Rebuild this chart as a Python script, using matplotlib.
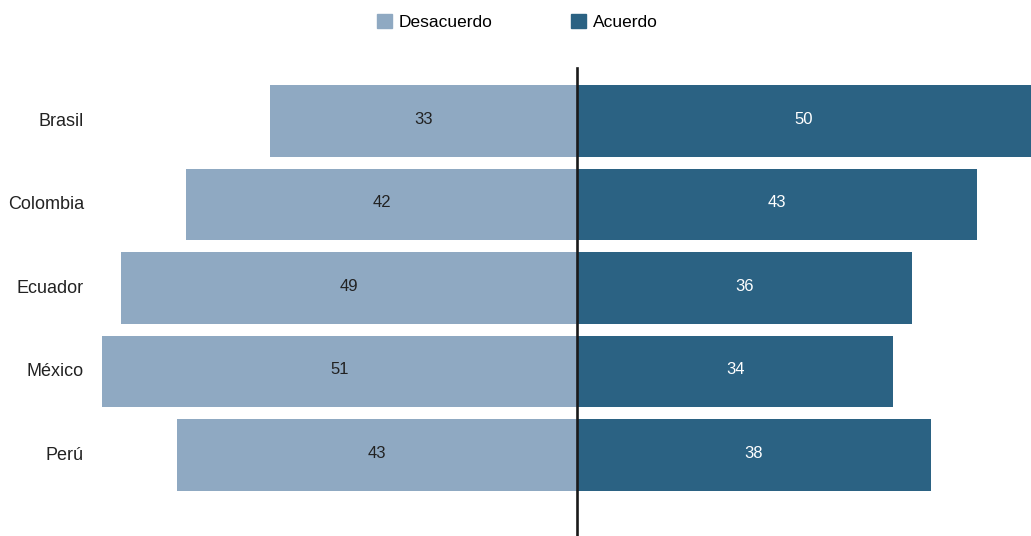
import matplotlib
matplotlib.use("Agg")
import matplotlib.pyplot as plt
from matplotlib.patches import Patch

countries = ["Brasil", "Colombia", "Ecuador", "México", "Perú"]
desacuerdo = [33, 42, 49, 51, 43]
acuerdo = [50, 43, 36, 34, 38]

C_DES = "#8fa9c2"
C_ACU = "#2b6283"
FONT = ["Liberation Sans Narrow", "Liberation Sans", "DejaVu Sans"]
plt.rcParams["font.family"] = FONT

fig = plt.figure(figsize=(10.31, 5.36), dpi=100)
ax = fig.add_axes([0, 0, 1, 1])

xlo, xhi = -62.0, 48.8
ys = list(range(len(countries)))
ax.barh(ys, [-v for v in desacuerdo], height=0.86, color=C_DES, zorder=2)
ax.barh(ys, acuerdo, height=0.86, color=C_ACU, zorder=2)

for y, d, a, name in zip(ys, desacuerdo, acuerdo, countries):
    ax.text(-d / 2, y - 0.02, f"{d}", ha="center", va="center", fontsize=12, color="#222222", zorder=3)
    ax.text(min(a, xhi) / 2, y - 0.02, f"{a}", ha="center", va="center", fontsize=12, color="white", zorder=3)
    ax.text(84 / 1031, y, name, transform=ax.get_yaxis_transform(), ha="right", va="center",
            fontsize=13, color="#222222")

ax.axvline(0, ymin=0, ymax=1 - 68 / 536, color="#1a1a1a", lw=1.9, zorder=4)

ax.set_xlim(xlo, xhi)
ax.set_ylim(4.97, -1.45)
ax.axis("off")

handles = [Patch(color=C_DES, label="Desacuerdo"), Patch(color=C_ACU, label="Acuerdo")]
fig.legend(handles=handles, loc="center", bbox_to_anchor=(0.502, 0.959), ncol=2, frameon=False,
           fontsize=12.5, handlelength=0.86, handleheight=0.86, handletextpad=0.4,
           columnspacing=4.5, borderpad=0)

fig.savefig("out.png", dpi=100)
